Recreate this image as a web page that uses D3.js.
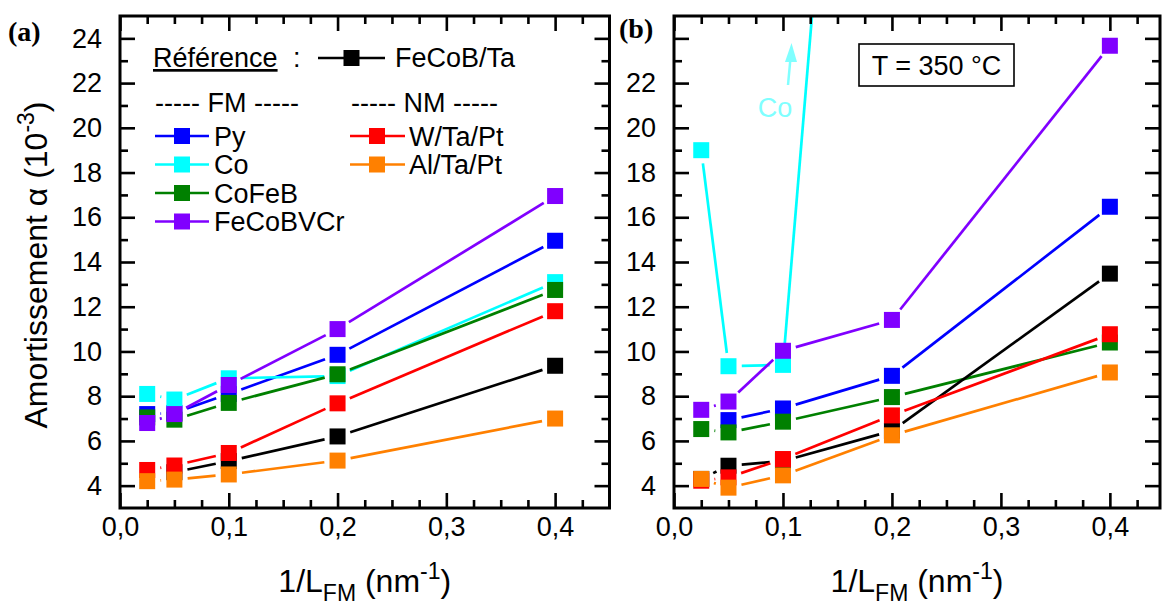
<!DOCTYPE html>
<html><head><meta charset="utf-8">
<script src="https://cdn.jsdelivr.net/npm/d3@7"></script>
<style>body{margin:0;background:#fff} svg{display:block}</style>
</head><body>
<svg id="chart" width="1162" height="606"></svg>
<script>
// ---------- data ----------
const xValues = [0.025, 0.05, 0.1, 0.2, 0.4];   // 1/L_FM (nm^-1)
const seriesNames = ["Py", "Co", "CoFeB", "FeCoBVCr", "FeCoB/Ta", "W/Ta/Pt", "Al/Ta/Pt"];

// Panel (a) : damping alpha (1e-3)
const pyA       = [7.2, 7.25, 8.1, 9.85, 14.95];
const coA       = [8.1, 7.85, 8.8, 8.9, 13.1];
const cofebA    = [7.05, 6.95, 7.7, 8.98, 12.75];
const fecobvcrA = [6.8, 7.2, 8.5, 11.0, 16.95];
const fecobTaA  = [null, 4.6, 5.1, 6.2, 9.36];
const wTaPtA    = [4.7, 4.9, 5.46, 7.68, 11.8];
const alTaPtA   = [4.2, 4.27, 4.5, 5.12, 7.0];

// Panel (b) : T = 350 °C
const pyB       = [null, 6.93, 7.45, 8.91, 16.47];
const coB       = [19.0, 9.34, 9.4, 68, null];
const cofebB    = [6.53, 6.38, 6.86, 7.96, 10.4];
const fecobvcrB = [7.39, 7.76, 10.03, 11.41, 23.67];
const fecobTaB  = [4.3, 4.89, 5.1, 6.45, 13.48];
const wTaPtB    = [4.22, 4.37, 5.19, 7.14, 10.77];
const alTaPtB   = [4.3, 3.91, 4.46, 6.25, 9.06];

// ticks
const xMajorTicks = [0, 0.1, 0.2, 0.3, 0.4];
const xMinorTicks = [0.025, 0.05, 0.075, 0.125, 0.15, 0.175, 0.225, 0.25, 0.275, 0.325, 0.35, 0.375, 0.425];
const yMajorTicks = [4, 6, 8, 10, 12, 14, 16, 18, 20, 22, 24];
const yMinorTicks = [5, 7, 9, 11, 13, 15, 17, 19, 21, 23];
const yTickLabelsA = [4, 6, 8, 10, 12, 14, 16, 18, 20, 22, 24];
const yTickLabelsB = [4, 6, 8, 10, 12, 14, 16, 18, 20, 22];

// ---------- styles ----------
const colors = ["#0000ff", "#00ffff", "#008000", "#8000ff", "#000000", "#ff0000", "#ff8000"];
const FONT = "'Liberation Sans', Arial, sans-serif";
const GAP = 13.3, MS = 16;

const svg = d3.select("#chart");

const panels = [
  { id: "a", x0: 120, x1: 609.5, xMax: 0.45, labels: yTickLabelsA, data: [pyA, coA, cofebA, fecobvcrA, fecobTaA, wTaPtA, alTaPtA] },
  { id: "b", x0: 674, x1: 1160, xMax: 0.446, labels: yTickLabelsB, data: [pyB, coB, cofebB, fecobvcrB, fecobTaB, wTaPtB, alTaPtB] }
];
const yTop = 16, yBot = 508;
const y = d3.scaleLinear().domain([3, 25]).range([yBot, yTop]);
const fmt = v => d3.format(".1f")(v).replace(".", ",");

panels.forEach(p => {
  const x = d3.scaleLinear().domain([0, p.xMax]).range([p.x0, p.x1]);
  const g = svg.append("g");
  const clipId = "clip" + p.id;
  svg.append("clipPath").attr("id", clipId).append("rect")
    .attr("x", p.x0).attr("y", yTop).attr("width", p.x1 - p.x0).attr("height", yBot - yTop);
  const plot = g.append("g").attr("clip-path", `url(#${clipId})`);

  p.data.forEach((vals, si) => {
    const col = colors[si];
    const pts = xValues.map((xv, i) => vals[i] == null ? null : [x(xv), y(vals[i])]);
    for (let i = 0; i < pts.length - 1; i++) {
      const a = pts[i], b = pts[i + 1];
      if (!a || !b) continue;
      const dx = b[0] - a[0], dy = b[1] - a[1], L = Math.hypot(dx, dy);
      if (L <= 2 * GAP) continue;
      const ux = dx / L, uy = dy / L;
      plot.append("line")
        .attr("x1", a[0] + ux * GAP).attr("y1", a[1] + uy * GAP)
        .attr("x2", b[0] - ux * GAP).attr("y2", b[1] - uy * GAP)
        .attr("stroke", col).attr("stroke-width", 2.7);
    }
    pts.forEach(pt => {
      if (!pt) return;
      plot.append("rect").attr("x", pt[0] - MS / 2).attr("y", pt[1] - MS / 2)
        .attr("width", MS).attr("height", MS).attr("fill", col);
    });
  });

  // axes
  function styleAxis(sel) {
    sel.select(".domain").remove();
    sel.selectAll(".tick line").attr("stroke", "#000").attr("stroke-width", 2.6);
    sel.selectAll(".tick text").attr("fill", "#000");
    sel.attr("font-family", FONT).attr("font-size", 27);
  }
  // bottom
  g.append("g").attr("transform", `translate(0,${yBot})`)
    .call(d3.axisBottom(x).tickValues(xMajorTicks).tickSize(-15).tickPadding(9).tickFormat(fmt)).call(styleAxis);
  g.append("g").attr("transform", `translate(0,${yBot})`)
    .call(d3.axisBottom(x).tickValues(xMinorTicks).tickSize(-8).tickFormat("")).call(styleAxis);
  // top
  g.append("g").attr("transform", `translate(0,${yTop})`)
    .call(d3.axisTop(x).tickValues(xMajorTicks).tickSize(-15).tickFormat("")).call(styleAxis);
  g.append("g").attr("transform", `translate(0,${yTop})`)
    .call(d3.axisTop(x).tickValues(xMinorTicks).tickSize(-8).tickFormat("")).call(styleAxis);
  // left
  g.append("g").attr("transform", `translate(${p.x0},0)`)
    .call(d3.axisLeft(y).tickValues(yMajorTicks).tickSize(-15).tickPadding(18)
      .tickFormat(v => p.labels.includes(v) ? d3.format("d")(v) : "")).call(styleAxis);
  g.append("g").attr("transform", `translate(${p.x0},0)`)
    .call(d3.axisLeft(y).tickValues(yMinorTicks).tickSize(-8).tickFormat("")).call(styleAxis);
  // right
  g.append("g").attr("transform", `translate(${p.x1},0)`)
    .call(d3.axisRight(y).tickValues(yMajorTicks).tickSize(-15).tickFormat("")).call(styleAxis);
  g.append("g").attr("transform", `translate(${p.x1},0)`)
    .call(d3.axisRight(y).tickValues(yMinorTicks).tickSize(-8).tickFormat("")).call(styleAxis);
  // frame
  g.append("rect").attr("x", p.x0).attr("y", yTop).attr("width", p.x1 - p.x0).attr("height", yBot - yTop)
    .attr("fill", "none").attr("stroke", "#000").attr("stroke-width", 3);

  // x label
  const xl = g.append("text").attr("x", (p.x0 + p.x1) / 2).attr("y", 592)
    .attr("text-anchor", "middle").attr("font-family", FONT).attr("font-size", 32).attr("fill", "#000");
  xl.append("tspan").text("1/L");
  xl.append("tspan").attr("font-size", 23).attr("dy", 9).text("FM");
  xl.append("tspan").attr("dy", -9).text(" (nm");
  xl.append("tspan").attr("font-size", 23).attr("dy", -13).text("-1");
  xl.append("tspan").attr("dy", 13).text(")");
});

// y label
const yl = svg.append("text").attr("transform", "translate(47,265) rotate(-90)")
  .attr("text-anchor", "middle").attr("font-family", FONT).attr("font-size", 32).attr("fill", "#000");
yl.append("tspan").text("Amortissement α (10");
yl.append("tspan").attr("font-size", 23).attr("dy", -13).text("-3");
yl.append("tspan").attr("dy", 13).text(")");

// panel letters
svg.append("text").attr("x", 8).attr("y", 41).attr("font-family", "'Liberation Serif', 'Times New Roman', serif")
  .attr("font-weight", "bold").attr("font-size", 28).text("(a)");
svg.append("text").attr("x", 619).attr("y", 38).attr("font-family", "'Liberation Serif', 'Times New Roman', serif")
  .attr("font-weight", "bold").attr("font-size", 28).text("(b)");

// legend (panel a)
const leg = svg.append("g").attr("font-family", FONT).attr("font-size", 27).attr("fill", "#000");
leg.append("text").attr("x", 153).attr("y", 67).attr("text-decoration", "underline").text("Référence");
leg.append("text").attr("x", 293).attr("y", 67).text(":");
function legSym(cx, cy, x1, x2, col) {
  leg.append("line").attr("x1", x1).attr("x2", x2).attr("y1", cy).attr("y2", cy)
    .attr("stroke", col).attr("stroke-width", 2.7);
  leg.append("rect").attr("x", cx - MS / 2).attr("y", cy - MS / 2).attr("width", MS).attr("height", MS).attr("fill", col);
}
legSym(351.5, 58, 318, 385, colors[4]);
leg.append("text").attr("x", 395).attr("y", 67).text(seriesNames[4]);
leg.append("text").attr("x", 155).attr("y", 112).text("----- FM -----");
leg.append("text").attr("x", 351).attr("y", 112).text("----- NM -----");
const legRows = [136, 164.5, 193, 221.5];
[0, 1, 2, 3].forEach((si, r) => {
  legSym(182, legRows[r], 155, 209, colors[si]);
  leg.append("text").attr("x", 214).attr("y", legRows[r] + 9.5).text(seriesNames[si]);
});
[5, 6].forEach((si, r) => {
  legSym(377, legRows[r], 350, 405, colors[si]);
  leg.append("text").attr("x", 409).attr("y", legRows[r] + 9.5).text(seriesNames[si]);
});

// panel (b) annotations
svg.append("rect").attr("x", 859).attr("y", 44).attr("width", 155).attr("height", 42)
  .attr("fill", "#fff").attr("stroke", "#000").attr("stroke-width", 1.6);
svg.append("text").attr("x", 936.5).attr("y", 75).attr("text-anchor", "middle")
  .attr("font-family", FONT).attr("font-size", 27).text("T = 350 °C");
svg.append("text").attr("x", 775).attr("y", 117).attr("text-anchor", "middle")
  .attr("font-family", FONT).attr("font-size", 27).attr("fill", "#80ffff").text("Co");
svg.append("line").attr("x1", 788).attr("y1", 85).attr("x2", 790.5).attr("y2", 58)
  .attr("stroke", "#80ffff").attr("stroke-width", 2.5);
svg.append("path").attr("d", "M791.5,43 L785,62 L797,62 Z").attr("fill", "#80ffff");
</script>
</body></html>
